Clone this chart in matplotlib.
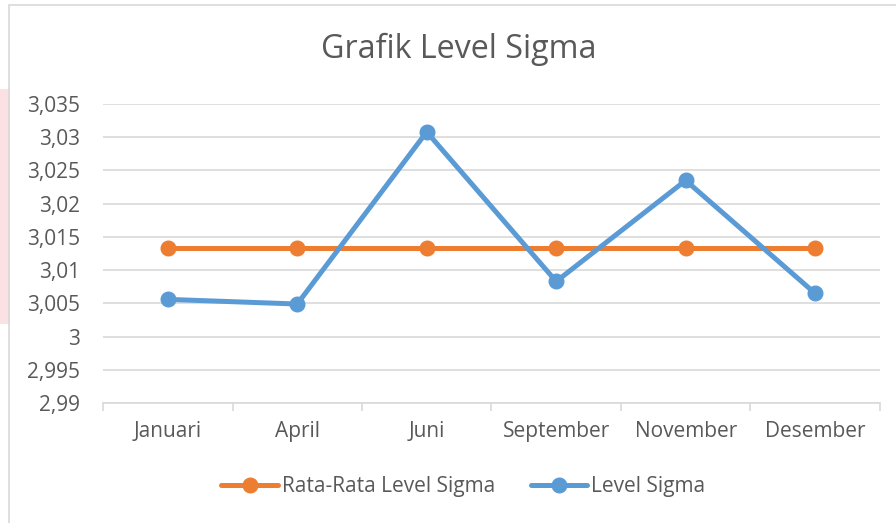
import matplotlib.pyplot as plt
from matplotlib.patches import Rectangle
from matplotlib.ticker import FixedLocator, FuncFormatter

# data
bulan = ["Januari", "April", "Juni", "September", "November", "Desember"]
level_sigma = [3.0056, 3.0049, 3.0308, 3.0083, 3.0235, 3.0065]
rata_rata = [3.0133, 3.0133, 3.0133, 3.0133, 3.0133, 3.0133]
y_ticks = [2.99, 2.995, 3.0, 3.005, 3.01, 3.015, 3.02, 3.025, 3.03, 3.035]

ORANGE = "#ED7D31"
BLUE = "#5B9BD5"
TEXT = "#595959"
GRID = "#D9D9D9"

plt.rcParams["font.family"] = ["Open Sans", "DejaVu Sans"]

fig = plt.figure(figsize=(8.96, 5.23), dpi=100, facecolor="white")

# faint watermark strip + chart border
fig.patches.append(Rectangle((0, 0.38), 0.011, 0.45, transform=fig.transFigure,
                             facecolor="#FADADD", edgecolor="none", alpha=0.8, zorder=0))
fig.patches.append(Rectangle((0.0105, -0.01), 1.0, 1.0, transform=fig.transFigure,
                             facecolor="none", edgecolor=GRID, linewidth=1.2, zorder=1))

ax = fig.add_axes([0.115, 0.2294, 0.867, 0.5717])
x = list(range(len(bulan)))

ax.plot(x, rata_rata, color=ORANGE, linewidth=3.6, marker="o", markersize=10.5,
        label="Rata-Rata Level Sigma", solid_capstyle="round", zorder=3)
ax.plot(x, level_sigma, color=BLUE, linewidth=3.6, marker="o", markersize=10.5,
        label="Level Sigma", solid_capstyle="round", zorder=4)

ax.set_xlim(-0.5, len(bulan) - 0.5)
ax.set_ylim(2.99, 3.035)
ax.yaxis.set_major_locator(FixedLocator(y_ticks))
ax.yaxis.set_major_formatter(FuncFormatter(lambda v, p: f"{v:g}".replace(".", ",")))
ax.set_xticks(x)
ax.set_xticklabels(bulan)
ax.set_xticks([i - 0.5 for i in range(len(bulan) + 1)], minor=True)

ax.grid(axis="y", color=GRID, linewidth=1.2)
ax.set_axisbelow(True)
for s in ["top", "right", "left"]:
    ax.spines[s].set_visible(False)
ax.spines["bottom"].set_color(GRID)
ax.spines["bottom"].set_linewidth(1.2)

ax.tick_params(axis="y", length=0, pad=16.5, labelsize=15, labelcolor=TEXT)
ax.tick_params(axis="x", which="major", length=0, pad=13, labelsize=15, labelcolor=TEXT)
ax.tick_params(axis="x", which="minor", length=6, width=1.2, color=GRID)

fig.text(0.512, 0.905, "Grafik Level Sigma", ha="center", va="center",
         fontsize=23.2, color=TEXT)

fig.legend(loc="center", bbox_to_anchor=(0.517, 0.069), ncol=2, frameon=False,
           fontsize=15, labelcolor=TEXT, handlelength=2.7, handletextpad=0.2,
           columnspacing=1.7)

fig.savefig("out.png", dpi=100, facecolor="white")
